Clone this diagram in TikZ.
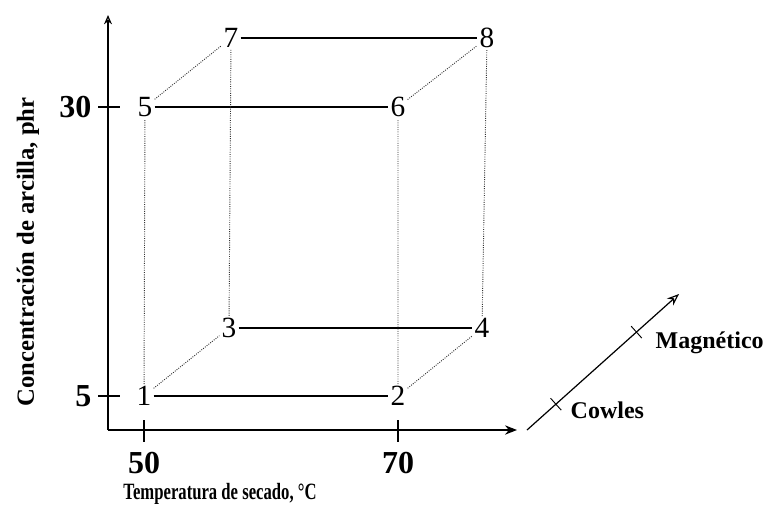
\documentclass[tikz,border=0pt]{standalone}
\usepackage{fontspec}
\setmainfont{Liberation Serif}
\usetikzlibrary{arrows.meta, positioning, calc}

\begin{document}
\begin{tikzpicture}[x=0.75pt, y=-0.75pt,
    corner/.style={inner sep=1.5pt, font=\fontsize{22}{24}\selectfont},
    front/.style={line width=0.8pt},
    hidden/.style={densely dotted, line width=0.7pt, black!80},
    ticklab/.style={font=\fontsize{24}{26}\selectfont\bfseries},
    axis/.style={line width=0.9pt}]
    \useasboundingbox (0,0) rectangle (771,522);
    % axes
    \coordinate (o) at (108,430);
    \coordinate (ytop) at (108,15);
    \coordinate (xend) at (517,430);
    \draw[axis, -{Stealth[length=9pt, width=7pt]}] (o) -- (xend);
    \draw[axis, -{Stealth[length=7pt, width=6pt, open]}] (o) -- (ytop);
    \draw[axis] (98,396) -- (120,396) (98,107) -- (120,107);
    \draw[axis] (144,420) -- (144,442) (398,420) -- (398,442);
    \node[ticklab, anchor=east] (y5) at (96,396) {5};
    \node[ticklab, anchor=east] (y30) at (96,107) {30};
    \node[ticklab] (x50) at (144,463) {50};
    \node[ticklab] (x70) at (398,463) {70};
    \node[font=\fontsize{12.5}{14}\selectfont\bfseries] (xlab) at (220,494) {\scalebox{1}[1.4]{Temperatura de secado, °C}};
    \node[font=\fontsize{18.5}{20}\selectfont\bfseries, rotate=90] (ylab) at (28,252) {Concentración de arcilla, phr};
    % cube
    \node[corner] (n1) at (144,396) {1};
    \node[corner] (n2) at (398,396) {2};
    \node[corner] (n3) at (229,328) {3};
    \node[corner] (n4) at (482,328) {4};
    \node[corner] (n5) at (145,107) {5};
    \node[corner] (n6) at (398,107) {6};
    \node[corner] (n7) at (231,38) {7};
    \node[corner] (n8) at (487,38) {8};
    \draw[front] (n1) -- (n2) (n3) -- (n4) (n5) -- (n6) (n7) -- (n8);
    \draw[hidden] (n1) -- (n5) (n2) -- (n6) (n3) -- (n7) (n4) -- (n8);
    \draw[hidden] (n1) -- (n3) (n2) -- (n4) (n5) -- (n7) (n6) -- (n8);
    % third factor
    \coordinate (m0) at (527,430);
    \coordinate (m1) at (679,294);
    \draw[line width=0.9pt, -{Stealth[length=9pt, width=7pt, open]}] (m0) -- (m1);
    \coordinate (c1) at ($(m0)!0.19!(m1)$);
    \coordinate (c2) at ($(m0)!0.72!(m1)$);
    \draw[line width=0.7pt] ($(c1)!6pt!90:(m1)$) -- ($(c1)!6pt!-90:(m1)$);
    \draw[line width=0.7pt] ($(c2)!6pt!90:(m1)$) -- ($(c2)!6pt!-90:(m1)$);
    \node[font=\fontsize{18}{20}\selectfont\bfseries, anchor=west] (cowles) at (566,410) {Cowles};
    \node[font=\fontsize{18}{20}\selectfont\bfseries, anchor=west] (magn) at (651,343) {Magnético};
\end{tikzpicture}
\end{document}
